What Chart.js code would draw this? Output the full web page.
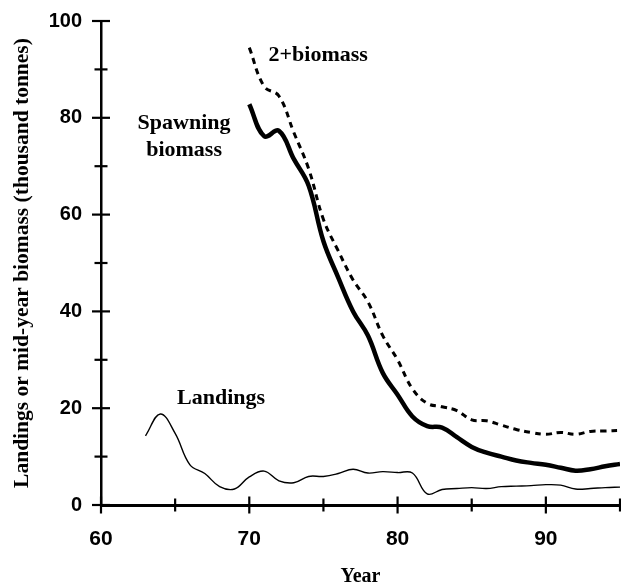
<!DOCTYPE html>
<html>
<head>
<meta charset="utf-8">
<script src="https://cdn.jsdelivr.net/npm/chart.js@4/dist/chart.umd.min.js"></script>
<style>
  html, body { margin: 0; padding: 0; background: #fff; }
  canvas { display: block; }
</style>
</head>
<body>
<canvas id="biomassChart" width="621" height="586"></canvas>
<script>
// data (year, thousand tonnes)
const landingYears = [63, 64, 65, 66, 67, 68, 69, 70, 71, 72, 73, 74, 75, 76, 77, 78, 79,
  80, 81, 82, 83, 84, 85, 86, 87, 88, 89, 90, 91, 92, 93, 94, 95];
const landings = [14.3, 18.8, 14.8, 8.3, 6.5, 3.8, 3.3, 5.8, 7.0, 5.0, 4.6, 5.9, 5.9, 6.5, 7.4, 6.6, 6.9,
  6.7, 6.6, 2.3, 3.2, 3.4, 3.6, 3.4, 3.8, 3.9, 4.0, 4.2, 4.1, 3.3, 3.4, 3.6, 3.7];

const biomassYears = [70, 71, 72, 73, 74, 75, 76, 77, 78, 79, 80, 81, 82,
  83, 84, 85, 86, 87, 88, 89, 90, 91, 92, 93, 94, 95];
const spawningBiomass = [82.8, 76.2, 77.3, 71.5, 66.0, 54.5, 47.0, 40.0, 35.0, 27.3, 22.8, 18.3, 16.3,
  16.0, 14.0, 12.0, 10.8, 10.0, 9.2, 8.7, 8.3, 7.7, 7.1, 7.4, 8.0, 8.5];
const twoPlusBiomass = [94.5, 86.5, 84.5, 77.0, 69.5, 59.0, 52.5, 46.5, 42.0, 35.0, 30.0, 24.0, 21.0,
  20.3, 19.5, 17.6, 17.4, 16.5, 15.6, 15.0, 14.6, 15.0, 14.6, 15.2, 15.3, 15.4];

const xLabels = [60, 70, 80, 90];
const yLabels = [0, 20, 40, 60, 80, 100];

// curve labels placed in data units
const curveLabels = [
  { text: "2+biomass", x: 71.3, y: 93, align: "left" },
  { text: "Spawning", x: 65.6, y: 78.8, align: "center" },
  { text: "biomass", x: 65.6, y: 73.2, align: "center" },
  { text: "Landings", x: 68.1, y: 22, align: "center" }
];

const toPoints = (xs, ys) => xs.map((x, i) => ({ x: x, y: ys[i] }));

(() => {
  const ctx = document.getElementById("biomassChart").getContext("2d");

  // ticks that cross the axis line, long for labelled ones
  const crossTicksPlugin = {
    id: "crossTicks",
    afterDraw: (chart) => {
      const c = chart.ctx;
      const xs = chart.scales.x;
      const ys = chart.scales.y;
      c.save();
      c.strokeStyle = "#000";
      c.lineWidth = 2.2;
      for (let v = 60; v <= 95; v += 5) {
        const px = xs.getPixelForValue(v);
        const h = xLabels.includes(v) ? 8.5 : 6.5;
        c.beginPath();
        c.moveTo(px, ys.bottom - h);
        c.lineTo(px, ys.bottom + h);
        c.stroke();
      }
      for (let v = 0; v <= 100; v += 10) {
        const py = ys.getPixelForValue(v);
        const h = yLabels.includes(v) ? 9 : 6.5;
        c.beginPath();
        c.moveTo(xs.left - h, py);
        c.lineTo(xs.left + h, py);
        c.stroke();
      }
      c.restore();
    }
  };

  const curveLabelPlugin = {
    id: "curveLabels",
    afterDraw: (chart) => {
      const c = chart.ctx;
      c.save();
      c.font = "bold 22px 'Liberation Serif', 'Times New Roman', serif";
      c.fillStyle = "#000";
      c.textBaseline = "middle";
      curveLabels.forEach((l) => {
        c.textAlign = l.align;
        c.fillText(l.text, chart.scales.x.getPixelForValue(l.x), chart.scales.y.getPixelForValue(l.y));
      });
      c.restore();
    }
  };

  new Chart(ctx, {
    type: "line",
    data: {
      datasets: [
        {
          label: "2+biomass",
          data: toPoints(biomassYears, twoPlusBiomass),
          borderColor: "#000",
          borderWidth: 3,
          borderDash: [6, 5],
          pointRadius: 0,
          tension: 0.4,
          fill: false
        },
        {
          label: "Spawning biomass",
          data: toPoints(biomassYears, spawningBiomass),
          borderColor: "#000",
          borderWidth: 4.5,
          pointRadius: 0,
          tension: 0.4,
          fill: false
        },
        {
          label: "Landings",
          data: toPoints(landingYears, landings),
          borderColor: "#000",
          borderWidth: 1.4,
          pointRadius: 0,
          tension: 0.4,
          fill: false
        }
      ]
    },
    options: {
      responsive: false,
      animation: false,
      layout: { padding: { top: 21, right: 1, left: 0, bottom: 0 } },
      plugins: {
        legend: { display: false },
        tooltip: { enabled: false }
      },
      scales: {
        x: {
          type: "linear",
          min: 60,
          max: 95,
          afterFit: (scale) => {
            scale.height = 81;
            scale.paddingLeft = 0;
            scale.paddingRight = 0;
          },
          grid: { drawOnChartArea: false, color: "transparent", tickLength: 9 },
          border: { color: "#000", width: 3 },
          ticks: {
            stepSize: 5,
            padding: 13,
            color: "#000",
            font: { family: "'Liberation Sans', Arial, sans-serif", size: 21, weight: "bold" },
            callback: (v) => (xLabels.includes(v) ? String(v) : "")
          },
          title: {
            display: true,
            text: "Year",
            color: "#000",
            font: { family: "'Liberation Serif', 'Times New Roman', serif", size: 20, weight: "bold" },
            padding: { top: 8, bottom: -3 }
          }
        },
        y: {
          min: 0,
          max: 100,
          afterFit: (scale) => {
            scale.width = 101;
            scale.paddingTop = 0;
            scale.paddingBottom = 0;
          },
          grid: { drawOnChartArea: false, color: "transparent", tickLength: 9 },
          border: { color: "#000", width: 2.5 },
          ticks: {
            stepSize: 10,
            padding: 10,
            color: "#000",
            font: { family: "'Liberation Sans', Arial, sans-serif", size: 20, weight: "bold" },
            callback: (v) => (yLabels.includes(v) ? String(v) : "")
          },
          title: {
            display: true,
            text: "Landings or mid-year biomass (thousand tonnes)",
            color: "#000",
            font: { family: "'Liberation Serif', 'Times New Roman', serif", size: 21.5, weight: "bold" },
            padding: { top: 10, bottom: 0 }
          }
        }
      }
    },
    plugins: [crossTicksPlugin, curveLabelPlugin]
  });
})();
</script>
</body>
</html>
